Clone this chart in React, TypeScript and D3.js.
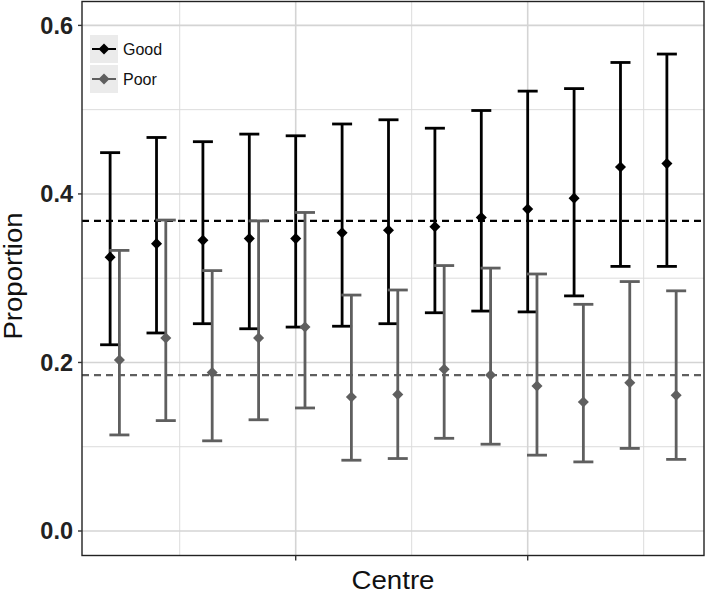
import React from "react";
import * as d3 from "d3";

const centres = [1, 2, 3, 4, 5, 6, 7, 8, 9, 10, 11, 12, 13];
const goodMid = [0.325, 0.341, 0.345, 0.347, 0.347, 0.354, 0.357, 0.361, 0.372, 0.382, 0.395, 0.432, 0.436];
const goodLow = [0.221, 0.235, 0.246, 0.240, 0.242, 0.243, 0.246, 0.259, 0.261, 0.260, 0.279, 0.314, 0.314];
const goodHigh = [0.449, 0.467, 0.462, 0.471, 0.469, 0.483, 0.488, 0.478, 0.499, 0.522, 0.525, 0.556, 0.566];
const poorMid = [0.203, 0.229, 0.188, 0.229, 0.242, 0.159, 0.162, 0.192, 0.185, 0.172, 0.153, 0.176, 0.161];
const poorLow = [0.114, 0.131, 0.107, 0.132, 0.146, 0.084, 0.086, 0.110, 0.103, 0.090, 0.082, 0.098, 0.085];
const poorHigh = [0.333, 0.369, 0.309, 0.368, 0.378, 0.280, 0.286, 0.315, 0.312, 0.305, 0.269, 0.296, 0.285];
const goodMean = 0.368;
const poorMean = 0.185;
const yTicks = [0.0, 0.2, 0.4, 0.6];
const yMinor = [0.1, 0.3, 0.5];
const xTicks = [5, 10];
const xMinor = [2.5, 7.5, 12.5];
const seriesNames = ["Good", "Poor"];

const W = 709;
const H = 594;
const left = 82;
const right = 704;
const top = 1.5;
const bottom = 555.5;

export default function App() {
  const x = d3.scaleLinear().domain([0.394, 13.8]).range([left, right]);
  const y = d3.scaleLinear().domain([0, 0.6]).range([531, 25.4]);
  const colors = ["#000000", "#5f5f5f"];
  const offsets = [0, 0.2];
  const capHalf = 10;
  const diamond = d3.symbol().type(d3.symbolDiamond2).size(78)();

  const series = [
    { mid: goodMid, low: goodLow, high: goodHigh },
    { mid: poorMid, low: poorLow, high: poorHigh },
  ];
  const means = [goodMean, poorMean];
  const font = "'Liberation Sans', Arial, Helvetica, sans-serif";

  return (
    <svg width={W} height={H} style={{ position: "absolute", left: 0, top: 0, display: "block" }}>
      <rect x={0} y={0} width={W} height={H} fill="#ffffff" />
      {/* grid */}
      {yMinor.map((v) => (
        <line key={"ym" + v} x1={left} x2={right} y1={y(v)} y2={y(v)} stroke="#dcdcdc" strokeWidth={1} />
      ))}
      {xMinor.map((v) => (
        <line key={"xm" + v} x1={x(v)} x2={x(v)} y1={top} y2={bottom} stroke="#dcdcdc" strokeWidth={1} />
      ))}
      {yTicks.map((v) => (
        <line key={"yM" + v} x1={left} x2={right} y1={y(v)} y2={y(v)} stroke="#d4d4d4" strokeWidth={1.6} />
      ))}
      {xTicks.map((v) => (
        <line key={"xM" + v} x1={x(v)} x2={x(v)} y1={top} y2={bottom} stroke="#d4d4d4" strokeWidth={1.6} />
      ))}
      {/* mean lines */}
      {means.map((m, k) => (
        <line key={"mean" + k} x1={left} x2={right} y1={y(m)} y2={y(m)} stroke={colors[k]} strokeWidth={2.2}
          strokeDasharray="7,5" />
      ))}
      {/* error bars */}
      {series.map((s, k) => (
        <g key={"s" + k}>
          {centres.map((c, i) => {
            const cx = x(c + offsets[k]);
            return (
              <g key={i}>
                <line x1={cx} x2={cx} y1={y(s.low[i])} y2={y(s.high[i])} stroke={colors[k]} strokeWidth={2.8} />
                <line x1={cx - capHalf} x2={cx + capHalf} y1={y(s.low[i])} y2={y(s.low[i])} stroke={colors[k]} strokeWidth={2.8} />
                <line x1={cx - capHalf} x2={cx + capHalf} y1={y(s.high[i])} y2={y(s.high[i])} stroke={colors[k]} strokeWidth={2.8} />
                <path d={diamond} transform={`translate(${cx},${y(s.mid[i])})`} fill={colors[k]} />
              </g>
            );
          })}
        </g>
      ))}
      {/* panel border */}
      <rect x={left} y={top} width={right - left} height={bottom - top} fill="none" stroke="#222" strokeWidth={1.4} />
      {/* y ticks */}
      {yTicks.map((v) => (
        <g key={"yt" + v}>
          <line x1={left - 4} x2={left} y1={y(v)} y2={y(v)} stroke="#333" strokeWidth={1.4} />
          <text x={left - 9} y={y(v)} dy="0.36em" textAnchor="end" fontFamily={font} fontWeight="bold"
            fontSize={23.5} fill="#222">{d3.format(".1f")(v)}</text>
        </g>
      ))}
      {xTicks.map((v) => (
        <line key={"xt" + v} x1={x(v)} x2={x(v)} y1={bottom} y2={bottom + 5} stroke="#333" strokeWidth={1.4} />
      ))}
      <text x={(left + right) / 2} y={589} textAnchor="middle" fontFamily={font} fontSize={26} fill="#111"
        textLength={83} lengthAdjust="spacingAndGlyphs">Centre</text>
      <text transform={`translate(22,${276}) rotate(-90)`} textAnchor="middle" fontFamily={font}
        fontSize={25} fill="#111" textLength={127} lengthAdjust="spacingAndGlyphs">Proportion</text>
      {/* legend */}
      {seriesNames.map((n, k) => {
        const ky = 35 + k * 30;
        return (
          <g key={"lg" + n}>
            <rect x={90} y={ky} width={28} height={28} fill="#ebebeb" />
            <line x1={92} x2={116} y1={ky + 14} y2={ky + 14} stroke={colors[k]} strokeWidth={2} />
            <path d={diamond} transform={`translate(104,${ky + 14})`} fill={colors[k]} />
            <text x={123} y={ky + 14} dy="0.36em" fontFamily={font} fontSize={16} fill="#111">{n}</text>
          </g>
        );
      })}
    </svg>
  );
}
